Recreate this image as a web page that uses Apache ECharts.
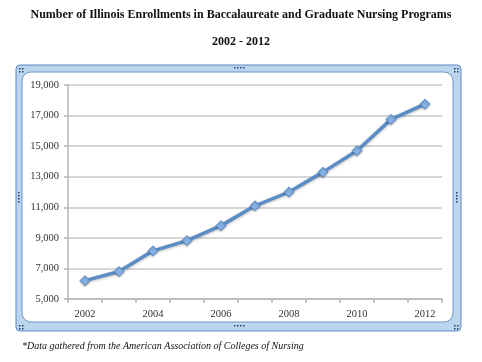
<!DOCTYPE html>
<html>
<head>
<meta charset="utf-8">
<script src="https://cdn.jsdelivr.net/npm/echarts@6/dist/echarts.min.js"></script>
<style>
html,body{margin:0;padding:0;background:#fff;}
#c{width:482px;height:362px;}
</style>
</head>
<body>
<div id="c"></div>
<script>
var years = ['2002','2003','2004','2005','2006','2007','2008','2009','2010','2011','2012'];
var enrollments = [6200, 6800, 8150, 8820, 9800, 11100, 12000, 13300, 14700, 16750, 17750];
var yTicks = {min: 5000, max: 19000, interval: 2000};
var titleText = 'Number of Illinois Enrollments in Baccalaureate and Graduate Nursing Programs';
var subtitleText = '2002 - 2012';
var footnoteText = '*Data gathered from the American Association of Colleges of Nursing';

var chart = echarts.init(document.getElementById('c'), null, {renderer: 'canvas'});
var serif = '"Liberation Serif", "Times New Roman", serif';

function dots(x, y, n, horizontal) {
  var arr = [];
  for (var i = 0; i < n; i++) {
    arr.push({type: 'rect', z: -5, shape: {x: x + (horizontal ? i * 3 : 0), y: y + (horizontal ? 0 : i * 3), width: 1.5, height: 1.5}, style: {fill: '#2b3f66'}});
  }
  return arr;
}

var graphics = [
  {type: 'rect', z: -20, shape: {x: 16, y: 65, width: 445, height: 266, r: 4},
   style: {fill: '#bcd5ef', stroke: '#5d87c2', lineWidth: 1}},
  {type: 'rect', z: -10, shape: {x: 22, y: 72, width: 431, height: 250, r: 9},
   style: {fill: '#ffffff', stroke: '#6d95c9', lineWidth: 1}},
  {type: 'text', z: 3, left: 'center', top: 9,
   style: {text: titleText, font: 'bold 12px ' + serif, fill: '#111'}},
  {type: 'text', z: 3, left: 'center', top: 36,
   style: {text: subtitleText, font: 'bold 12px ' + serif, fill: '#111'}},
  {type: 'text', z: 3, left: 22, top: 341,
   style: {text: footnoteText, font: 'italic 10px ' + serif, fill: '#111'}}
];
graphics = graphics.concat(dots(234, 67, 4, true), dots(234, 325, 4, true), dots(18, 192, 4, false), dots(456, 192, 4, false));
graphics = graphics.concat(dots(19, 68, 2, true), dots(19, 71, 2, true), dots(454, 68, 2, true), dots(454, 71, 2, true));
graphics = graphics.concat(dots(19, 325, 2, true), dots(19, 328, 2, true), dots(454, 325, 2, true), dots(454, 328, 2, true));

chart.setOption({
  animation: false,
  graphic: graphics,
  grid: {left: 68, right: 40, top: 85, bottom: 63, containLabel: false},
  xAxis: {
    type: 'category',
    data: years,
    boundaryGap: true,
    axisLine: {show: true, lineStyle: {color: '#b5b5b5', width: 1.5}},
    axisTick: {show: true, interval: 0, length: 4, lineStyle: {color: '#b5b5b5', width: 1.5}},
    axisLabel: {interval: 1, color: '#333', fontFamily: serif, fontSize: 10.5, margin: 10},
    splitLine: {show: false}
  },
  yAxis: {
    type: 'value',
    min: yTicks.min, max: yTicks.max, interval: yTicks.interval,
    axisLine: {show: true, lineStyle: {color: '#b5b5b5', width: 1.5}},
    axisTick: {show: true, length: 4, lineStyle: {color: '#b5b5b5', width: 1.5}},
    axisLabel: {color: '#333', fontFamily: serif, fontSize: 10.5, margin: 9,
      formatter: function (v) { return v.toLocaleString('en-US'); }},
    splitLine: {show: true, lineStyle: {color: '#c9c9c9', width: 1.5}}
  },
  series: [{
    type: 'line',
    data: enrollments,
    symbol: 'diamond',
    symbolSize: 10,
    lineStyle: {color: '#5a8cc6', width: 3.5, shadowColor: 'rgba(0,0,0,0.25)', shadowBlur: 3, shadowOffsetY: 1},
    itemStyle: {color: '#85b1e3', borderColor: '#5a8cc6', borderWidth: 1, shadowColor: 'rgba(0,0,0,0.25)', shadowBlur: 2, shadowOffsetY: 1},
    z: 5
  }]
});
</script>
</body>
</html>
